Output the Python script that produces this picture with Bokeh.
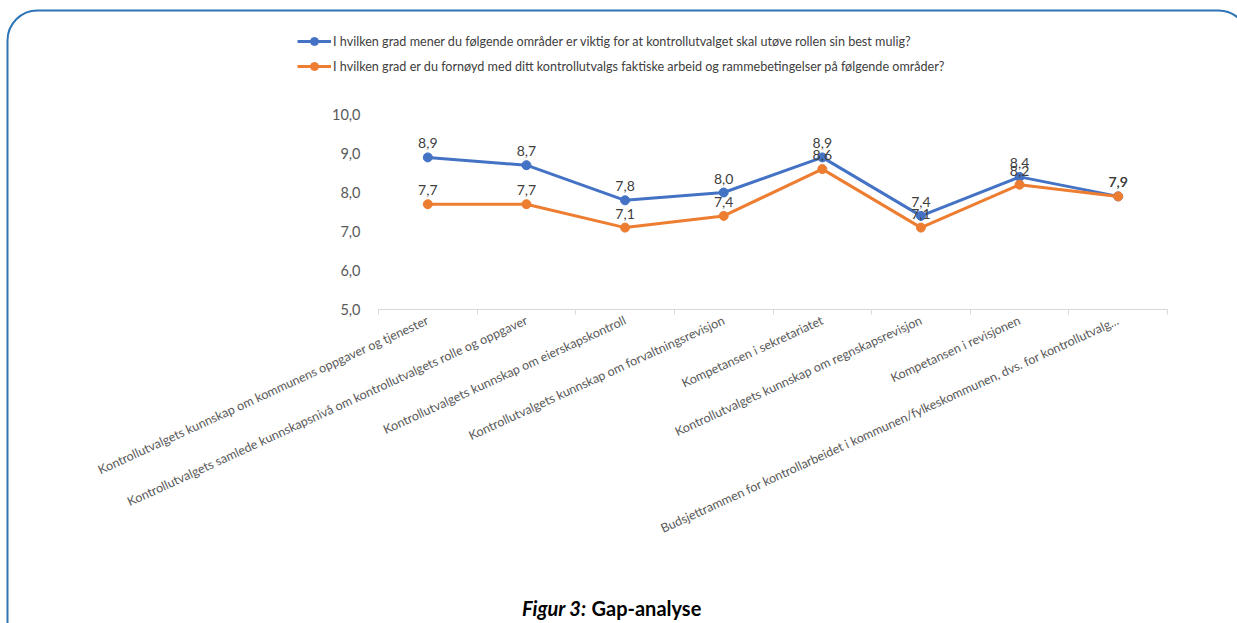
from bokeh.plotting import figure
from bokeh.models import (Range1d, FixedTicker, Legend, LegendItem, Label, BoxAnnotation)
from bokeh.core.properties import value
from bokeh.embed import file_html
from bokeh.resources import INLINE

categories = [
    "Kontrollutvalgets kunnskap om kommunens oppgaver og tjenester",
    "Kontrollutvalgets samlede kunnskapsnivå om kontrollutvalgets rolle og oppgaver",
    "Kontrollutvalgets kunnskap om eierskapskontroll",
    "Kontrollutvalgets kunnskap om forvaltningsrevisjon",
    "Kompetansen i sekretariatet",
    "Kontrollutvalgets kunnskap om regnskapsrevisjon",
    "Kompetansen i revisjonen",
    "Budsjettrammen for kontrollarbeidet i kommunen/fylkeskommunen, dvs. for kontrollutvalg...",
]
important = [8.9, 8.7, 7.8, 8.0, 8.9, 7.4, 8.4, 7.9]
satisfied = [7.7, 7.7, 7.1, 7.4, 8.6, 7.1, 8.2, 7.9]
series_names = [
    "I hvilken grad mener du følgende områder er viktig for at kontrollutvalget skal utøve rollen sin best mulig?",
    "I hvilken grad er du fornøyd med ditt kontrollutvalgs faktiske arbeid og rammebetingelser på følgende områder?",
]
y_ticks = [5, 6, 7, 8, 9, 10]
caption_bold_italic = "Figur 3:"
caption_bold = "Gap-analyse"

FONT = "Lato"
BLUE = "#4472C4"
ORANGE = "#ED7D31"
GRAY = "#595959"

# layout (pixels): the data area sits inside a full-canvas frame
W, H = 1237, 623
AREA_L, AREA_R, AREA_T, AREA_B = 378, 1167, 114, 309

n = len(categories)
xs = [i + 0.5 for i in range(n)]
x0, x1 = 0, n
y0, y1 = y_ticks[0], y_ticks[-1]
kx = (AREA_R - AREA_L) / (x1 - x0)
ky = (AREA_B - AREA_T) / (y1 - y0)

p = figure(width=W, height=H, output_backend="svg", toolbar_location=None,
           x_range=Range1d(x0 - AREA_L / kx, x1 + (W - AREA_R) / kx),
           y_range=Range1d(y0 - (H - AREA_B) / ky, y1 + AREA_T / ky),
           min_border=0)
p.title.visible = False
p.outline_line_color = None
p.grid.visible = False
p.background_fill_color = "white"
p.border_fill_color = "white"

# x axis (fixed at y = 5, spanning only the categories)
xa = p.xaxis[0]
xa.fixed_location = y0
xa.bounds = (x0, x1)
xa.ticker = FixedTicker(ticks=xs, minor_ticks=list(range(n + 1)))
xa.major_label_overrides = {x: c for x, c in zip(xs, categories)}
xa.major_label_orientation = 0.43
xa.major_tick_line_color = None
xa.minor_tick_in = 0
xa.minor_tick_out = 5
xa.minor_tick_line_color = "#D9D9D9"
xa.axis_line_color = "#D9D9D9"
xa.major_label_text_font = FONT
xa.major_label_text_font_size = "12.5px"
xa.major_label_text_color = GRAY
xa.major_label_standoff = 4

# y axis (fixed at the left edge of the category area)
ya = p.yaxis[0]
ya.fixed_location = x0
ya.bounds = (y0, y1)
ya.ticker = FixedTicker(ticks=y_ticks)
ya.major_label_overrides = {t: f"{t:.1f}".replace(".", ",") for t in y_ticks}
ya.axis_line_color = None
ya.major_tick_line_color = None
ya.minor_tick_line_color = None
ya.major_label_text_font = FONT
ya.major_label_text_font_size = "14.5px"
ya.major_label_text_color = GRAY
ya.major_label_standoff = 12

renderers = []
for vals, col in [(important, BLUE), (satisfied, ORANGE)]:
    l = p.line(xs, vals, line_color=col, line_width=3)
    s = p.scatter(xs, vals, marker="circle", size=9, fill_color=col, line_color=col)
    labels = [f"{v:.1f}".replace(".", ",") for v in vals]
    p.text(xs, vals, text=labels, text_align="center", text_baseline="alphabetic",
           y_offset=-14, text_font=value(FONT), text_font_size="14px", text_color="#404040")
    renderers.append((l, s))

legend = Legend(items=[LegendItem(label=series_names[i], renderers=list(renderers[i])) for i in range(2)],
                location=(297, H - 76), orientation="vertical",
                glyph_width=34, glyph_height=20, label_height=20, spacing=5,
                label_standoff=2, padding=0, margin=0,
                border_line_alpha=0, background_fill_alpha=0,
                label_text_font=FONT, label_text_font_size="12.6px", label_text_color="#404040")
p.add_layout(legend, "center")

p.add_layout(Label(x=586, y=H - 607, x_units="screen", y_units="screen", text=caption_bold_italic,
                   text_font=FONT, text_font_size="20px", text_font_style="bold italic",
                   text_color="black", text_baseline="alphabetic", text_align="right"))
p.add_layout(Label(x=591, y=H - 607, x_units="screen", y_units="screen", text=caption_bold,
                   text_font=FONT, text_font_size="20px", text_font_style="bold",
                   text_color="black", text_baseline="alphabetic", text_align="left"))

p.add_layout(BoxAnnotation(left=7, right=1248, top=H - 10, bottom=-100,
                           left_units="screen", right_units="screen",
                           top_units="screen", bottom_units="screen",
                           fill_alpha=0, line_color="#2E75B6", line_alpha=1, line_width=2,
                           border_radius=30))

open("out.html", "w").write(file_html(p, INLINE))
